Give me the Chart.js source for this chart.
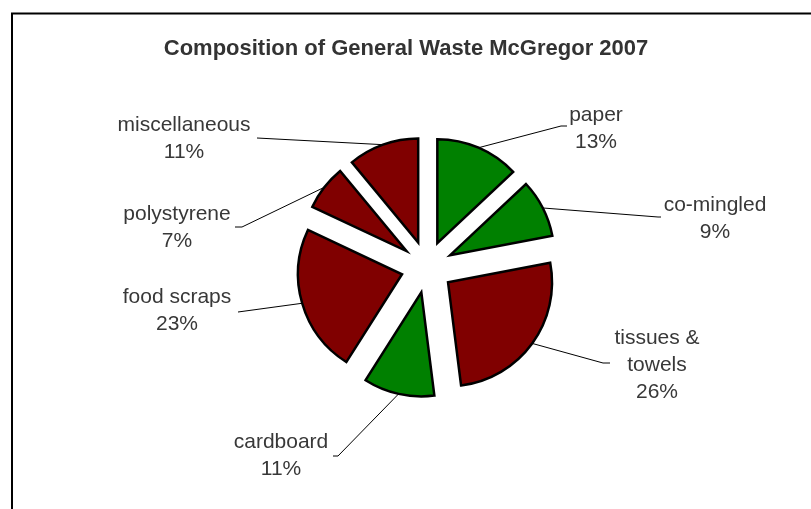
<!DOCTYPE html>
<html>
    <head>
        <meta charset="utf-8">
        <script src="https://cdn.jsdelivr.net/npm/chart.js@4/dist/chart.umd.min.js"></script>
        <style>
            body {
                margin: 0;
                background: #ffffff;
            }
        </style>
    </head>

    <body>
        <canvas id="wykres" width="811" height="509"></canvas>

        <script>
            // data
            const tytul = "Composition of General Waste McGregor 2007";
            const kategorie = ["paper", "co-mingled", ["tissues &", "towels"], "cardboard",
                               "food scraps", "polystyrene", "miscellaneous"];
            const wartosci = [13, 9, 26, 11, 23, 7, 11];
            const kolory = ["#008000", "#008000", "#800000", "#008000", "#800000", "#800000", "#800000"];

            // where each label sits: text centre x, first baseline, end of leader line, short tick
            const etykiety = [
                { x: 596, y: 121, lx: 561, ly: 126, tick: 6 },
                { x: 715, y: 211, lx: 658, ly: 217, tick: 3 },
                { x: 657, y: 344, lx: 603, ly: 363, tick: 7 },
                { x: 281, y: 448, lx: 338, ly: 456, tick: -5 },
                { x: 177, y: 303, lx: 238, ly: 312, tick: 0 },
                { x: 177, y: 220, lx: 242, ly: 227, tick: -7 },
                { x: 184, y: 131, lx: 257, ly: 138, tick: 0 }
            ];

            const wysun = 26;      // how far each slice is pulled out
            const czcionka = "'Liberation Sans', Arial, sans-serif";

            const ramka = {
                id: "ramka",
                beforeDraw(chart) {
                    const c = chart.ctx;
                    c.save();
                    c.fillStyle = "#fff";
                    c.fillRect(0, 0, chart.width, chart.height);
                    c.strokeStyle = "#000";
                    c.lineWidth = 2;
                    c.strokeRect(12, 13.5, chart.width + 20, chart.height + 20);
                    c.fillStyle = "#333";
                    c.font = "bold 22px " + czcionka;
                    c.textAlign = "center";
                    c.textBaseline = "alphabetic";
                    c.fillText(tytul, 406, 55);
                    c.restore();
                }
            };

            // pull every slice out along its middle angle
            const rozsun = {
                id: "rozsun",
                beforeDatasetDraw(chart, args) {
                    const c = chart.ctx;
                    args.meta.data.forEach(function (luk) {
                        const kat = (luk.startAngle + luk.endAngle) / 2;
                        c.save();
                        c.translate(Math.cos(kat) * wysun, Math.sin(kat) * wysun);
                        luk.draw(c);
                        c.restore();
                    });
                    return false;
                }
            };

            const opisy = {
                id: "opisy",
                afterDraw(chart) {
                    const c = chart.ctx;
                    const suma = wartosci.reduce((a, b) => a + b, 0);
                    const meta = chart.getDatasetMeta(0);
                    c.save();
                    meta.data.forEach(function (luk, i) {
                        const e = etykiety[i];
                        const kat = (luk.startAngle + luk.endAngle) / 2;
                        const r = luk.outerRadius + wysun;
                        const px = luk.x + Math.cos(kat) * r;
                        const py = luk.y + Math.sin(kat) * r;

                        c.strokeStyle = "#000";
                        c.lineWidth = 1;
                        c.beginPath();
                        c.moveTo(px, py);
                        c.lineTo(e.lx, e.ly);
                        if (e.tick) c.lineTo(e.lx + e.tick, e.ly);
                        c.stroke();

                        let linie = [].concat(kategorie[i]);
                        linie.push(Math.round(wartosci[i] / suma * 100) + "%");
                        c.fillStyle = "#383838";
                        c.font = "21px " + czcionka;
                        c.textAlign = "center";
                        c.textBaseline = "alphabetic";
                        linie.forEach(function (t, k) {
                            c.fillText(t, e.x, e.y + k * 27);
                        });
                    });
                    c.restore();
                }
            };

            const ctx = document.getElementById("wykres").getContext("2d");
            let wykres = new Chart(ctx, {
                type: "pie",
                data: {
                    labels: kategorie,
                    datasets: [{
                        data: wartosci,
                        backgroundColor: kolory,
                        borderColor: "#000",
                        borderWidth: 2.5,
                        borderJoinStyle: "miter",
                        radius: 104
                    }]
                },
                options: {
                    responsive: false,
                    animation: false,
                    layout: { padding: { left: 60, right: 17, top: 40, bottom: 15 } },
                    plugins: {
                        legend: { display: false },
                        title: { display: false },
                        tooltip: { enabled: false }
                    }
                },
                plugins: [ramka, rozsun, opisy]
            });
        </script>
    </body>
</html>
